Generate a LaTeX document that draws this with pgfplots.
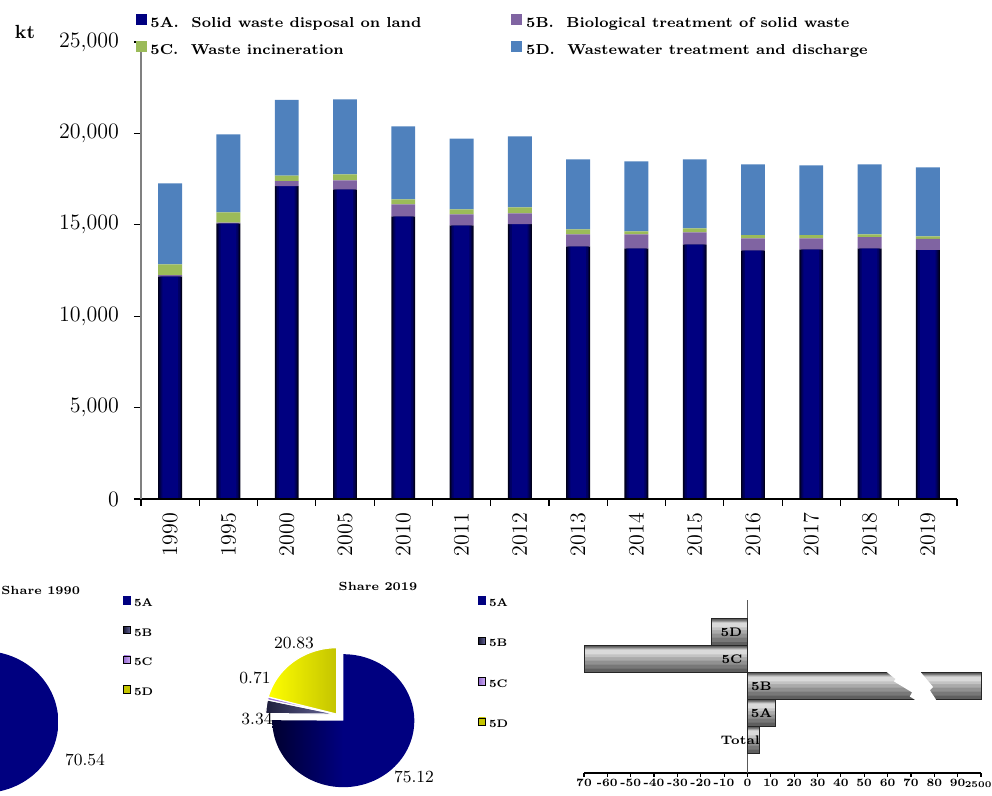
\documentclass[border=0pt]{standalone}
\usepackage{pgfplots}
\pgfplotsset{compat=1.18}
\usepackage{pgfplotstable}
\definecolor{navyA}{RGB}{0,0,128}
\definecolor{navyD}{RGB}{0,0,48}
\definecolor{navy1}{RGB}{0,0,28}
\definecolor{navy2}{RGB}{0,0,62}
\definecolor{navy3}{RGB}{0,0,96}
\definecolor{purB}{RGB}{128,100,162}
\definecolor{grnC}{RGB}{155,187,89}
\definecolor{bluD}{RGB}{79,129,189}
\definecolor{slateL}{RGB}{30,30,60}
\definecolor{slateR}{RGB}{105,105,155}
\definecolor{lavL}{RGB}{150,110,210}
\definecolor{lavR}{RGB}{210,175,245}
\definecolor{yelL}{RGB}{255,255,0}
\definecolor{yelR}{RGB}{196,196,0}
\definecolor{g0}{RGB}{95,95,95}
\definecolor{g1}{RGB}{120,120,120}
\definecolor{g2}{RGB}{145,145,145}
\definecolor{g3}{RGB}{170,170,170}
\definecolor{g4}{RGB}{195,195,195}
\definecolor{g5}{RGB}{218,218,218}

\pgfplotstableread{
x year A B C D
0 1990 12180 60 590 4440
1 1995 15080 40 560 4270
2 2000 17120 270 300 4150
3 2005 16940 490 330 4100
4 2010 15460 660 270 3990
5 2011 14970 600 280 3870
6 2012 15030 600 320 3880
7 2013 13820 660 270 3830
8 2014 13710 770 160 3830
9 2015 13930 660 220 3770
10 2016 13600 660 170 3870
11 2017 13660 600 170 3820
12 2018 13710 610 160 3820
13 2019 13627 606 129 3779
}\emissions

% change 1990-2019 (%); 5B runs past the break to the 2500 mark, 5C is cut at -70
\pgfplotstableread{
y v
0 5
1 12
2 100
3 -70
4 -15.4
}\change

% shares (%)
\def\sAa{70.54}\def\sBa{0.35}\def\sCa{3.42}\def\sDa{25.69}
\def\sAb{75.12}\def\sBb{3.34}\def\sCb{0.71}\def\sDb{20.83}
\pgfmathsetmacro{\aAa}{90-3.6*\sAa}
\pgfmathsetmacro{\aBa}{\aAa-3.6*\sBa}
\pgfmathsetmacro{\aCa}{\aBa-3.6*\sCa}
\pgfmathsetmacro{\aDa}{\aCa-3.6*\sDa}
\pgfmathsetmacro{\aAb}{90-3.6*\sAb}
\pgfmathsetmacro{\aBb}{\aAb-3.6*\sBb}
\pgfmathsetmacro{\aCb}{\aBb-3.6*\sCb}
\pgfmathsetmacro{\aDb}{\aCb-3.6*\sDb}

\pgfplotsset{mainframe/.style={
  at={(70.5pt,148.5pt)}, anchor=south west,
  scale only axis, width=408pt, height=228.5pt,
  xmin=-0.5, xmax=13.5, ymin=0, ymax=25000}}

\begin{document}
\begin{tikzpicture}
\useasboundingbox (0,0) rectangle (496pt,398pt);

% ---------------- 5A bars with shaded edges (drawn first) ----------------
\begin{axis}[mainframe, hide axis, ybar]
\addplot[draw=none, fill=navy1, bar width=0.41, bar shift=0] table[x=x, y=A] {\emissions};
\addplot[draw=none, fill=navy2, bar width=0.37, bar shift=0] table[x=x, y=A] {\emissions};
\addplot[draw=none, fill=navy3, bar width=0.33, bar shift=0] table[x=x, y=A] {\emissions};
\addplot[draw=none, fill=navyA, bar width=0.27, bar shift=0] table[x=x, y=A] {\emissions};
\end{axis}

% ---------------- main stacked bar chart ----------------
\begin{axis}[
  mainframe,
  ybar stacked, bar width=0.41,
  axis x line*=bottom, axis y line*=left,
  x axis line style={black, line width=0.6pt, -},
  y axis line style={gray, line width=1.2pt, -},
  xtick={0,...,13},
  xticklabels={1990,1995,2000,2005,2010,2011,2012,2013,2014,2015,2016,2017,2018,2019},
  major x tick style={draw=none},
  minor xtick={-0.5,0.5,...,13.5},
  minor x tick style={black, line width=0.6pt},
  ytick={0,5000,10000,15000,20000,25000},
  major y tick style={black, line width=0.6pt},
  tick align=outside, major tick length=3.5pt, minor tick length=3.5pt,
  scaled y ticks=false,
  /pgf/number format/1000 sep={,},
  /pgf/number format/assume math mode=true,
  yticklabel style={font=\fontsize{11}{13}\selectfont, xshift=-4pt},
  xticklabel style={rotate=90, anchor=east, font=\fontsize{11}{13}\selectfont},
  legend columns=2,
  legend cell align=left,
  legend style={at={(rel axis cs:-0.007,1.062)}, anchor=north west, draw=none, fill=none,
    inner sep=0pt, font=\bfseries\fontsize{7.2}{9}\selectfont,
    nodes={inner sep=0pt, text height=5.5pt, text depth=1.5pt},
    row sep=5.3pt,
    /tikz/every odd column/.append style={column sep=2pt},
    /tikz/every even column/.append style={column sep=45pt}},
]
\addplot[forget plot, draw=none, fill=none] table[x=x, y=A] {\emissions};
\addplot[forget plot, draw=none, fill=purB] table[x=x, y=B] {\emissions};
\addplot[forget plot, draw=none, fill=grnC] table[x=x, y=C] {\emissions};
\addplot[forget plot, draw=none, fill=bluD] table[x=x, y=D] {\emissions};
\addlegendimage{legend image code/.code={\fill[navyA] (0pt,-0.5pt) rectangle (5pt,4.5pt);}}
\addlegendentry{5A.\ \ Solid waste disposal on land}
\addlegendimage{legend image code/.code={\fill[purB] (0pt,-0.5pt) rectangle (5pt,4.5pt);}}
\addlegendentry{5B.\ \ Biological treatment of solid waste}
\addlegendimage{legend image code/.code={\fill[grnC] (0pt,-0.5pt) rectangle (5pt,4.5pt);}}
\addlegendentry{5C.\ \ Waste incineration}
\addlegendimage{legend image code/.code={\fill[bluD] (0pt,-0.5pt) rectangle (5pt,4.5pt);}}
\addlegendentry{5D.\ \ Wastewater treatment and discharge}
\end{axis}
\node[font=\bfseries\fontsize{9.5}{11}\selectfont] at (12.5pt,382pt) {kt};

% ---------------- pie 1990 ----------------
\begin{axis}[
  at={(0pt,0pt)}, anchor=south west, x=0.5pt, y=0.5pt,
  xmin=0, xmax=992, ymin=0, ymax=796, hide axis,
  legend cell align=left,
  legend style={at={(axis cs:123,200)}, anchor=north west, draw=none, fill=none,
    inner sep=0pt, font=\bfseries\fontsize{5.5}{6.5}\selectfont,
    nodes={inner sep=0pt, text height=4pt, text depth=1pt},
    row sep=8.7pt,
    /tikz/every odd column/.append style={column sep=1.5pt}},
]
\addplot[forget plot, draw=none, left color=navyD, right color=navyA, middle color=navyA,
  domain=\aAa:90, samples=90]
  ({-16.7+75*cos(x)}, {74+71*sin(x)}) -- (axis cs:-16.7,74) -- cycle;
\addplot[forget plot, draw=white, line width=0.6pt, left color=slateL, right color=slateR,
  domain=\aBa:\aAa, samples=10]
  ({-23.2+75*cos(x)}, {80.5+71*sin(x)}) -- (axis cs:-23.2,80.5) -- cycle;
\addplot[forget plot, draw=white, line width=0.6pt, left color=lavL, right color=lavR,
  domain=\aCa:\aBa, samples=10]
  ({-23.2+75*cos(x)}, {80.5+71*sin(x)}) -- (axis cs:-23.2,80.5) -- cycle;
\addplot[forget plot, draw=white, line width=0.6pt, left color=yelL, middle color=yelL, right color=yelR,
  domain=\aDa:\aCa, samples=40]
  ({-23.2+75*cos(x)}, {80.5+71*sin(x)}) -- (axis cs:-23.2,80.5) -- cycle;
\addlegendimage{legend image code/.code={\fill[navyA] (0pt,-0.3pt) rectangle (3.4pt,3.4pt);}}
\addlegendentry{5A}
\addlegendimage{legend image code/.code={\fill[left color=slateL, right color=slateR] (0pt,-0.3pt) rectangle (3.4pt,3.4pt);}}
\addlegendentry{5B}
\addlegendimage{legend image code/.code={\fill[left color=lavL, right color=lavR] (0pt,-0.3pt) rectangle (3.4pt,3.4pt);}}
\addlegendentry{5C}
\addlegendimage{legend image code/.code={\fill[left color=yelR, middle color=yelL, right color=yelR] (0pt,-0.3pt) rectangle (3.4pt,3.4pt);}}
\addlegendentry{5D}
\node[font=\fontsize{8.5}{10}\selectfont] at (axis cs:85,36) {70.54};
\node[font=\bfseries\fontsize{5.9}{7}\selectfont, anchor=west, inner sep=0pt] at (axis cs:1,206) {Share 1990};
\end{axis}

% ---------------- pie 2019 ----------------
\begin{axis}[
  at={(0pt,0pt)}, anchor=south west, x=0.5pt, y=0.5pt,
  xmin=0, xmax=992, ymin=0, ymax=796, hide axis,
  legend cell align=left,
  legend style={at={(axis cs:478,200)}, anchor=north west, draw=none, fill=none,
    inner sep=0pt, font=\bfseries\fontsize{5.5}{6.5}\selectfont,
    nodes={inner sep=0pt, text height=4pt, text depth=1pt},
    row sep=14.1pt,
    /tikz/every odd column/.append style={column sep=1.5pt}},
]
\addplot[forget plot, draw=none, left color=navyD, right color=navyA, middle color=navyA,
  domain=\aAb:90, samples=90]
  ({343.3+71*cos(x)}, {75.3+66.5*sin(x)}) -- (axis cs:343.3,75.3) -- cycle;
\addplot[forget plot, draw=white, line width=0.6pt, left color=slateL, right color=slateR,
  domain=\aBb:\aAb, samples=10]
  ({336.8+71*cos(x)}, {81.8+66.5*sin(x)}) -- (axis cs:336.8,81.8) -- cycle;
\addplot[forget plot, draw=white, line width=0.6pt, left color=lavL, right color=lavR,
  domain=\aCb:\aBb, samples=6]
  ({336.8+71*cos(x)}, {81.8+66.5*sin(x)}) -- (axis cs:336.8,81.8) -- cycle;
\addplot[forget plot, draw=white, line width=0.6pt, left color=yelL, middle color=yelL, right color=yelR,
  domain=\aDb:\aCb, samples=40]
  ({336.8+71*cos(x)}, {81.8+66.5*sin(x)}) -- (axis cs:336.8,81.8) -- cycle;
\addlegendimage{legend image code/.code={\fill[navyA] (0pt,-0.3pt) rectangle (3.4pt,3.4pt);}}
\addlegendentry{5A}
\addlegendimage{legend image code/.code={\fill[left color=slateL, right color=slateR] (0pt,-0.3pt) rectangle (3.4pt,3.4pt);}}
\addlegendentry{5B}
\addlegendimage{legend image code/.code={\fill[left color=lavL, right color=lavR] (0pt,-0.3pt) rectangle (3.4pt,3.4pt);}}
\addlegendentry{5C}
\addlegendimage{legend image code/.code={\fill[left color=yelR, middle color=yelL, right color=yelR] (0pt,-0.3pt) rectangle (3.4pt,3.4pt);}}
\addlegendentry{5D}
\node[font=\fontsize{8.5}{10}\selectfont] at (axis cs:414,19) {75.12};
\node[font=\fontsize{8.5}{10}\selectfont] at (axis cs:294,153) {20.83};
\node[font=\fontsize{8.5}{10}\selectfont] at (axis cs:255,118) {0.71};
\node[font=\fontsize{8.5}{10}\selectfont] at (axis cs:257,77) {3.34};
\node[font=\bfseries\fontsize{5.9}{7}\selectfont] at (axis cs:378,210) {Share 2019};
\end{axis}

% ---------------- change bar chart ----------------
\begin{axis}[
  at={(292pt,11.5pt)}, anchor=south west,
  scale only axis, width=198.5pt, height=86.5pt,
  xbar,
  xmin=-70, xmax=100, ymin=-1.22, ymax=5.2,
  axis x line*=bottom, axis y line=none,
  x axis line style={black, line width=0.6pt, -},
  xtick={-70,-60,...,90},
  xticklabels={\textbf{70},\textbf{-60},\textbf{-50},\textbf{-40},\textbf{-30},\textbf{-20},\textbf{-10},\textbf{0},
    \textbf{10},\textbf{20},\textbf{30},\textbf{40},\textbf{50},\textbf{60},\textbf{70},\textbf{80},\textbf{90}},
  extra x ticks={100},
  extra x tick labels={\textbf{2500}},
  extra x tick style={xticklabel style={font=\bfseries\fontsize{4.4}{5}\selectfont, anchor=north west, inner sep=0.3pt, xshift=-8.6pt, yshift=-2pt}},
  tick align=outside, major tick length=2pt,
  xtick style={black, line width=0.6pt},
  xticklabel style={font=\bfseries\fontsize{5.6}{6.5}\selectfont, inner sep=1pt},
  clip=false,
]
\draw[gray!70!black, line width=0.8pt] (axis cs:0,-1.22) -- (axis cs:0,5.2);
\addplot[draw=none, fill=g0, bar width=1,    bar shift=0]     table[x=v, y=y] {\change};
\addplot[draw=none, fill=g1, bar width=0.8,  bar shift=0.05]  table[x=v, y=y] {\change};
\addplot[draw=none, fill=g2, bar width=0.62, bar shift=0.11]  table[x=v, y=y] {\change};
\addplot[draw=none, fill=g3, bar width=0.45, bar shift=0.175] table[x=v, y=y] {\change};
\addplot[draw=none, fill=g4, bar width=0.30, bar shift=0.23]  table[x=v, y=y] {\change};
\addplot[draw=none, fill=g5, bar width=0.17, bar shift=0.265] table[x=v, y=y] {\change};
\addplot[draw=black!85, line width=0.5pt, fill=none, bar width=1, bar shift=0] table[x=v, y=y] {\change};
\fill[white] (axis cs:59.1,2.56) -- (axis cs:63.4,2.27) -- (axis cs:62.7,2.18) -- (axis cs:70.5,1.77)
  -- (axis cs:69.5,1.62) -- (axis cs:72.7,1.44) -- (axis cs:81.2,1.44) -- (axis cs:78.1,1.85)
  -- (axis cs:79.5,1.97) -- (axis cs:73.8,2.56) -- cycle;
\node[font=\bfseries\fontsize{6.2}{7}\selectfont] at (axis cs:-6.9,4) {5D};
\node[font=\bfseries\fontsize{6.2}{7}\selectfont] at (axis cs:-6.6,3) {5C};
\node[font=\bfseries\fontsize{6.2}{7}\selectfont] at (axis cs:6.0,2) {5B};
\node[font=\bfseries\fontsize{6.2}{7}\selectfont] at (axis cs:6.0,1) {5A};
\node[font=\bfseries\fontsize{6.2}{7}\selectfont] at (axis cs:-3.1,0) {Total};
\end{axis}
\end{tikzpicture}
\end{document}
